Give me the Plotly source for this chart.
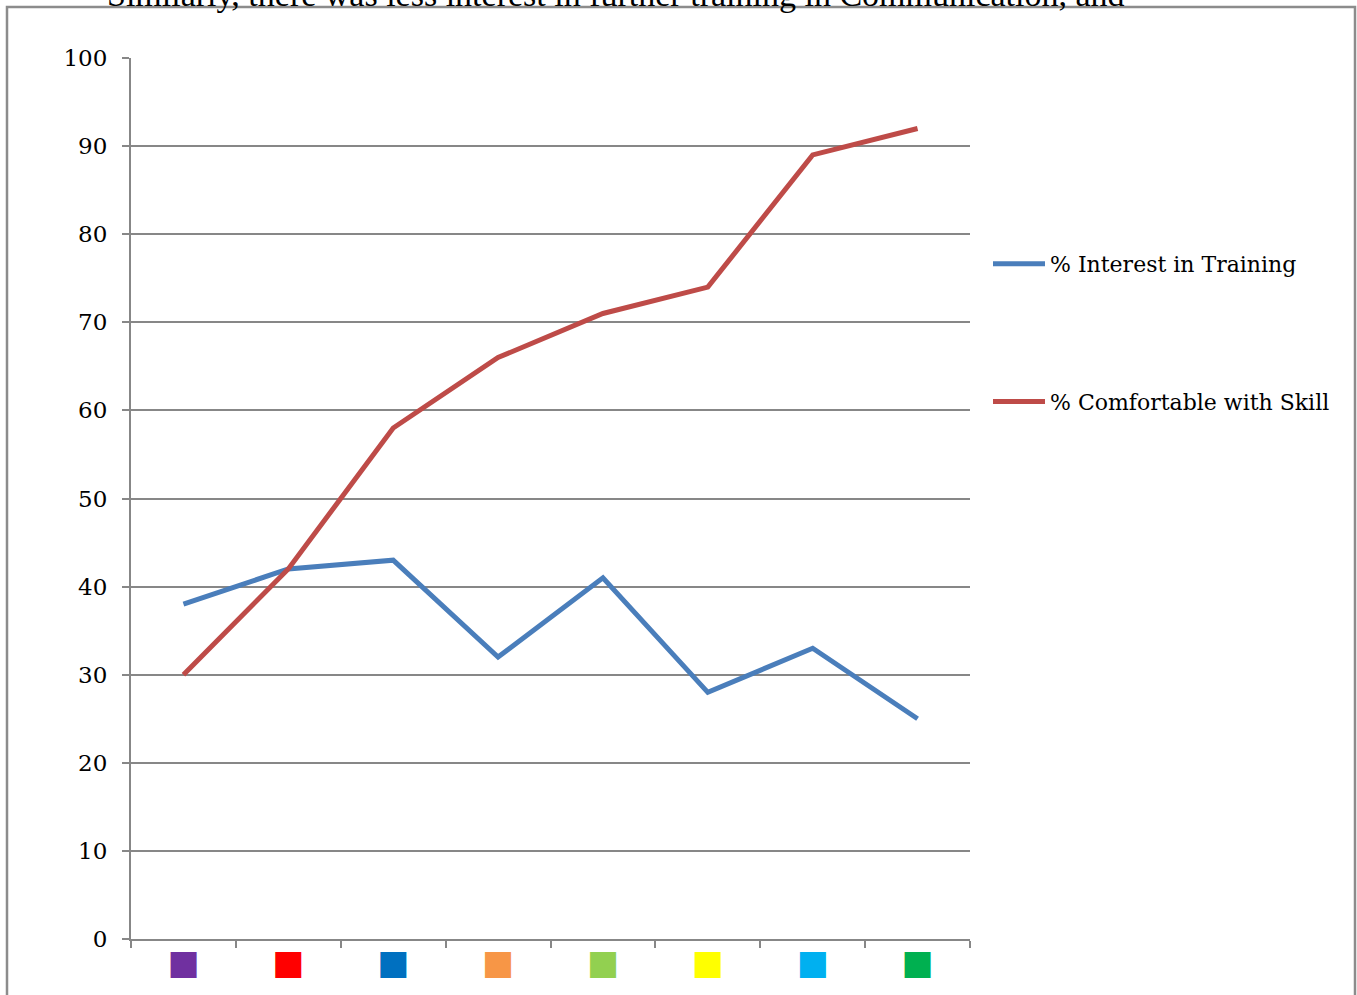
import plotly.graph_objects as go

categories = ["c1", "c2", "c3", "c4", "c5", "c6", "c7", "c8"]
square_colors = ["#7030A0", "#FF0000", "#0070C0", "#F79646", "#92D050", "#FFFF00", "#00B0F0", "#00B050"]
interest = [38, 42, 43, 32, 41, 28, 33, 25]
comfortable = [30, 42, 58, 66, 71, 74, 89, 92]
y_ticks = [0, 10, 20, 30, 40, 50, 60, 70, 80, 90, 100]

tick_text = [f'<span style="color:{c}">■</span>' for c in square_colors]

fig = go.Figure()
fig.add_trace(go.Scatter(x=categories, y=interest, mode="lines", name="% Interest in Training",
                         line=dict(color="#4A7EBB", width=5), legendgroup="a"))
fig.add_trace(go.Scatter(x=categories, y=comfortable, mode="lines", name="% Comfortable with Skill",
                         line=dict(color="#BE4B48", width=5), legendgroup="b"))

W, H = 1357, 995
L, R, T, B = 131, 970, 58, 939
pw, ph = R - L, B - T

def px(x):
    return (x - L) / pw

def py(y):
    return (B - y) / ph

fig.update_layout(
    width=W, height=H,
    margin=dict(l=L, r=W - R, t=T, b=H - B, autoexpand=False),
    paper_bgcolor="white", plot_bgcolor="white",
    font=dict(family="DejaVu Serif", color="black", size=22),
    showlegend=True,
    legend=dict(x=px(988), y=py(243), xanchor="left", yanchor="top",
                traceorder="grouped", tracegroupgap=106, itemwidth=52,
                font=dict(family="DejaVu Serif", size=22), bgcolor="rgba(0,0,0,0)"),
    xaxis=dict(
        type="category", range=[-0.5, 7.5], tickmode="array", tickvals=categories, ticktext=tick_text,
        tickson="boundaries", ticks="outside", ticklen=7, tickwidth=2, tickcolor="#878787",
        showline=True, linecolor="#878787", linewidth=2, showgrid=False, automargin=False,
        ticklabelstandoff=-8,
        tickfont=dict(family="DejaVu Sans", size=34), fixedrange=True,
    ),
    yaxis=dict(
        range=[0, 100], tickmode="array", tickvals=y_ticks, ticks="outside", ticklen=7, tickwidth=2,
        tickcolor="#878787", showline=True, linecolor="#878787", linewidth=2, automargin=False,
        showgrid=True, gridcolor="#878787", gridwidth=1.5, zeroline=False,
        ticklabelstandoff=10, tickfont=dict(family="DejaVu Serif", size=23),
    ),
    shapes=[dict(type="rect", xref="paper", yref="paper",
                 x0=px(7), x1=px(1355), y0=py(1010), y1=py(7),
                 line=dict(color="#8C8C8C", width=2.5), fillcolor="rgba(0,0,0,0)", layer="below")],
    annotations=[dict(text="Similarly, there was less interest in further training in Communication, and",
                      xref="paper", yref="paper", x=px(105), y=py(15), xanchor="left", yanchor="bottom",
                      showarrow=False, font=dict(family="Liberation Serif", size=34, color="black"))],
)

fig.write_html("out.html")
